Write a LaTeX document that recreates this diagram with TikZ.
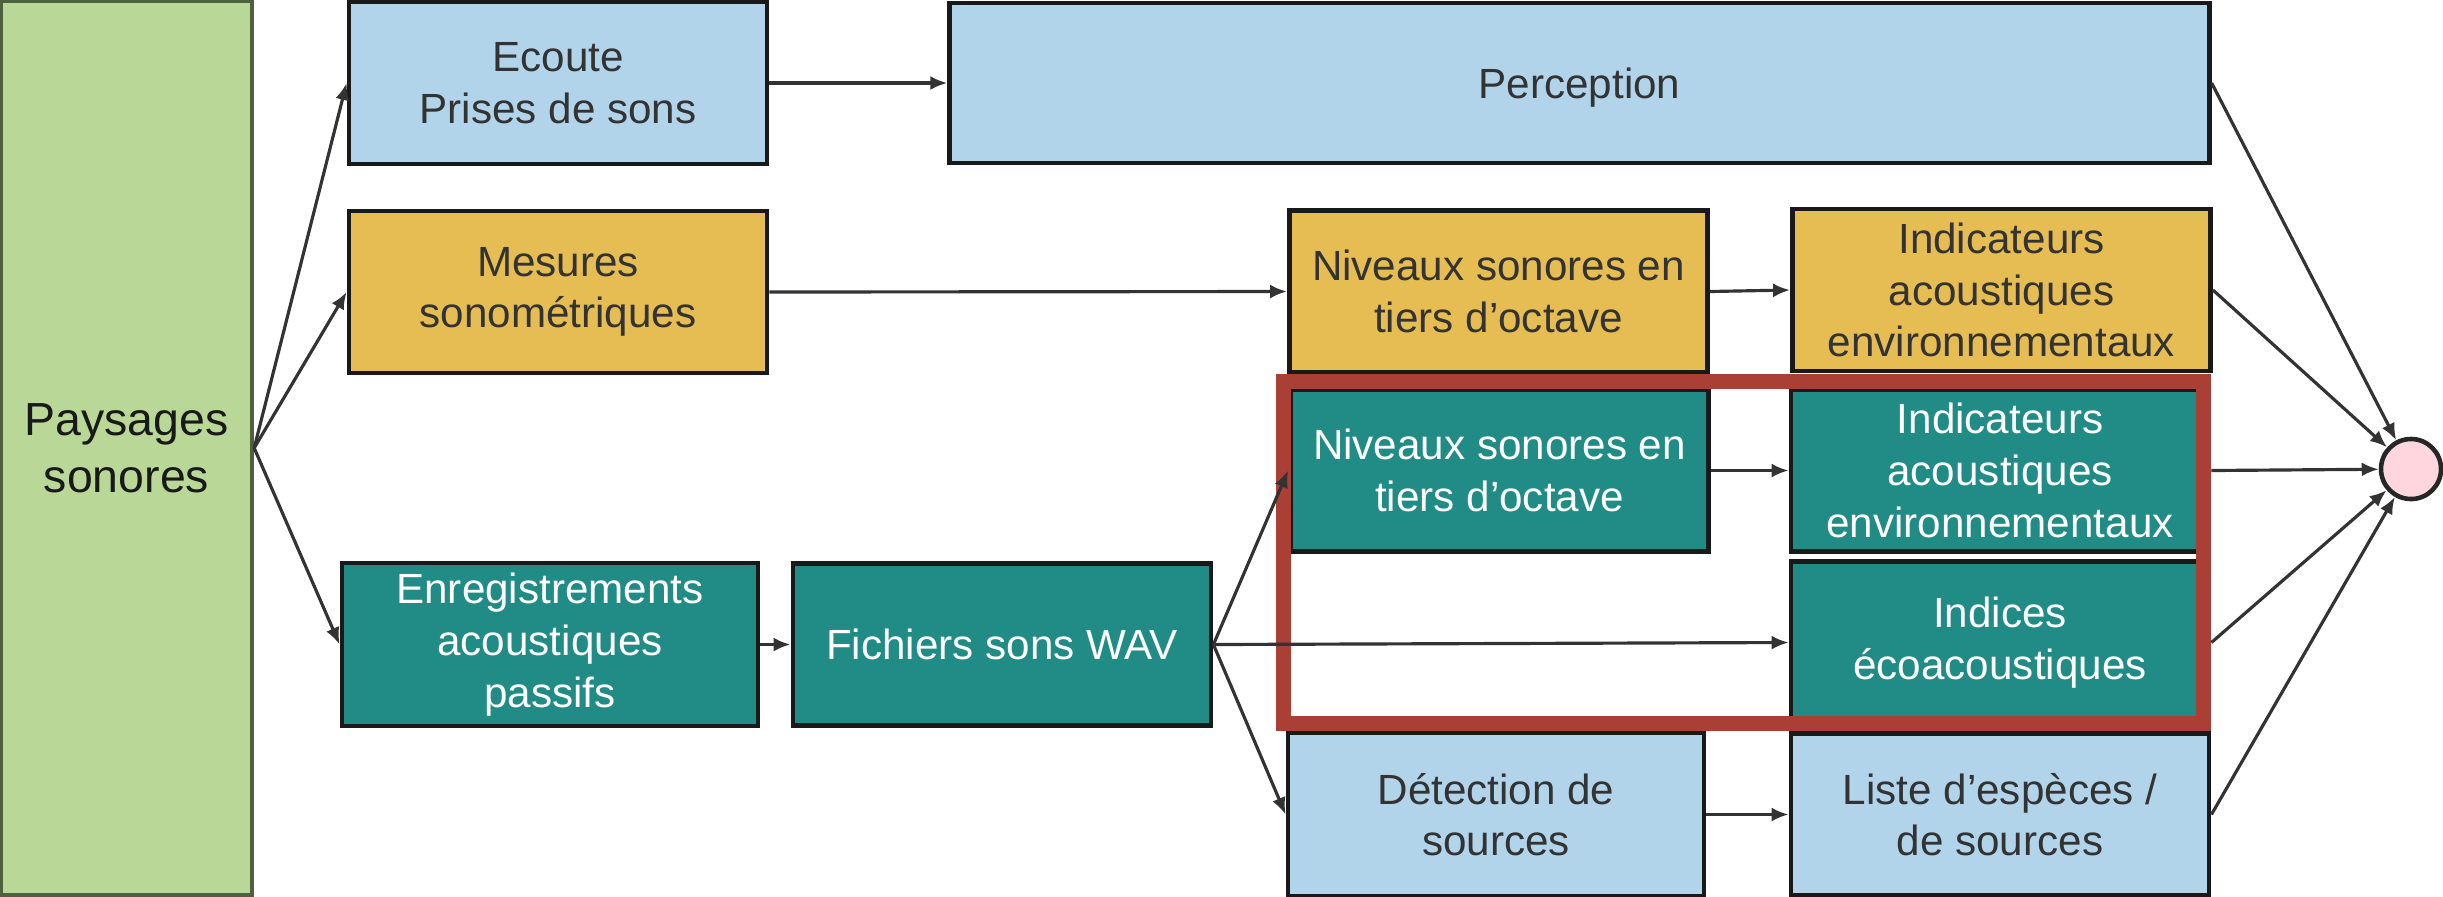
\documentclass[tikz,border=0pt]{standalone}
\usepackage{fontspec}
\setmainfont{Liberation Sans}
\usepackage{tikz}
\usetikzlibrary{arrows.meta,positioning}
\usepackage{xcolor}
\definecolor{paysgreen}{HTML}{B9D898}
\definecolor{paysedge}{HTML}{4E613F}
\definecolor{skyblue}{HTML}{B1D4EB}
\definecolor{ochre}{HTML}{E6BD52}
\definecolor{darkteal}{HTML}{218B85}
\definecolor{framered}{HTML}{A93F35}
\definecolor{pinkdot}{HTML}{FFD6DE}
\definecolor{inkgray}{HTML}{333333}

\begin{document}
\begin{tikzpicture}[
  x=0.01cm, y=-0.01cm,
  every node/.style={draw=black!90, line width=1.3pt, align=center, inner sep=0pt, font=\fontsize{12}{14.7}\selectfont},
  skynode/.style={fill=skyblue, text=inkgray},
  ochrenode/.style={fill=ochre, text=inkgray},
  tealnode/.style={fill=darkteal, text=white},
  wide/.style={minimum width=4.18cm, minimum height=1.62cm},
  flow/.style={draw=inkgray, line width=0.9pt, -{Latex[length=1.7mm,width=1.4mm]}}
]
\useasboundingbox (0,0) rectangle (2443,896);

\node[fill=paysgreen, draw=paysedge, line width=1.2pt, minimum width=2.51cm, minimum height=8.94cm,
  font=\fontsize{13.2}{16.2}\selectfont, text=black!90] (pays) at (126.5,448) {Paysages\\sonores};

% first row
\node[skynode, wide] (ecoute) at (558,83) {Ecoute\\Prises de sons};
\node[skynode, minimum width=12.59cm, minimum height=1.60cm, text depth=0pt] (percep) at (1579.5,83) {Perception};

% sound level meter row
\node[ochrenode, wide] (mesures) at (558,292) {Mesures\\sonométriques};
\node[ochrenode, wide] (nivj) at (1498.5,291.5) {Niveaux sonores en\\tiers d’octave};
\node[ochrenode, wide] (indj) at (2001.5,290) {Indicateurs\\acoustiques\\environnementaux};

% passive recordings
\node[tealnode, wide] (nivt) at (1499.5,470.5) {Niveaux sonores en\\tiers d’octave};
\node[tealnode, wide] (indt) at (2000,470.5) {Indicateurs\\acoustiques\\environnementaux};
\node[tealnode, wide] (indices) at (2000,642.5) {Indices\\écoacoustiques};
\node[tealnode, minimum width=4.16cm, minimum height=1.63cm] (enreg) at (550,644.5) {Enregistrements\\acoustiques\\passifs};
\node[tealnode, wide] (fich) at (1002,644.5) {Fichiers sons WAV};

\node[skynode, minimum width=4.16cm, minimum height=1.63cm] (detect) at (1496,814.5) {Détection de\\sources};
\node[skynode, wide] (liste) at (2000,814.5) {Liste d’espèces /\\de sources};

\node[circle, fill=pinkdot, draw=black!85, minimum size=0.6cm] (sink) at (2411,469) {};

\draw[framered, line width=0.15cm] (1283,381) rectangle (2203,723);

\draw[flow] (pays.east) -- (ecoute.west);
\draw[flow] (pays.east) -- (mesures.west);
\draw[flow] (pays.east) -- (enreg.west);
\draw[flow] (ecoute.east) -- (percep.west);
\draw[flow] (mesures.east) -- (nivj.west);
\draw[flow] (nivj.east) -- (indj.west);
\draw[flow] (enreg.east) -- (fich.west);
\draw[flow] (fich.east) -- (nivt.west);
\draw[flow] (fich.east) -- (indices.west);
\draw[flow] (fich.east) -- (detect.west);
\draw[flow] (nivt.east) -- (indt.west);
\draw[flow] (detect.east) -- (liste.west);
\foreach \src in {percep,indj,indt,indices,liste}
  \draw[flow] (\src.east) -- (sink);
\end{tikzpicture}
\end{document}
